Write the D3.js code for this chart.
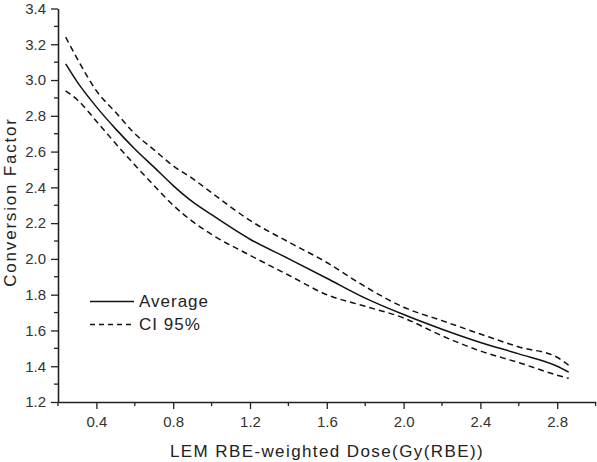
<!DOCTYPE html>
<html><head><meta charset="utf-8">
<script src="https://cdn.jsdelivr.net/npm/d3@7"></script>
<style>body{margin:0;background:#fff}svg{display:block}text{font-family:Arial,"Liberation Sans",sans-serif}</style>
</head><body><svg id="c" width="597" height="462"></svg>
<script>
const doses = [0.24,0.3,0.4,0.5,0.6,0.7,0.8,0.9,1.0,1.2,1.4,1.6,1.8,2.0,2.2,2.4,2.6,2.8,2.86];
const average = [3.09,2.99,2.85,2.727,2.615,2.513,2.41,2.32,2.247,2.11,2.002,1.892,1.781,1.689,1.607,1.533,1.469,1.40,1.367];
const ciUpper = [3.24,3.12,2.94,2.82,2.70,2.61,2.52,2.45,2.37,2.215,2.095,1.98,1.845,1.73,1.655,1.58,1.508,1.45,1.405];
const ciLower = [2.94,2.89,2.77,2.645,2.525,2.41,2.30,2.21,2.137,2.02,1.91,1.80,1.735,1.67,1.57,1.485,1.42,1.35,1.332];
const xTicks = [0.4,0.8,1.2,1.6,2.0,2.4,2.8];
const yTicks = [1.2,1.4,1.6,1.8,2.0,2.2,2.4,2.6,2.8,3.0,3.2,3.4];
const legendLabels = ["Average","CI 95%"];

const svg = d3.select("#c");
const x = d3.scaleLinear().domain([0.2,3.0]).range([58,595.6]);
const y = d3.scaleLinear().domain([1.2,3.4]).range([402,8.5]);
const axisColor = "#222", textColor = "#333";

// minor ticks
const xMinor = d3.range(0.2,3.001,0.2).map(v=>+v.toFixed(2)).filter(v=>!xTicks.some(t=>Math.abs(t-v)<1e-6));
const yMinor = d3.range(1.3,3.4,0.2).map(v=>+v.toFixed(2));
svg.append("g").selectAll("line").data(xMinor).join("line")
  .attr("x1",d=>x(d)).attr("x2",d=>x(d)).attr("y1",402).attr("y2",406)
  .attr("stroke",axisColor).attr("stroke-width",1.3);
svg.append("g").selectAll("line").data(yMinor).join("line")
  .attr("y1",d=>y(d)).attr("y2",d=>y(d)).attr("x1",58).attr("x2",54)
  .attr("stroke",axisColor).attr("stroke-width",1.3);

const xAxis = svg.append("g").attr("transform","translate(0,402)")
  .call(d3.axisBottom(x).tickValues(xTicks).tickFormat(d3.format(".1f")).tickSize(7).tickPadding(7).tickSizeOuter(0));
const yAxis = svg.append("g").attr("transform","translate(58,0)")
  .call(d3.axisLeft(y).tickValues(yTicks).tickFormat(d3.format(".1f")).tickSize(7).tickPadding(5).tickSizeOuter(0));
[xAxis,yAxis].forEach(g=>{
  g.select(".domain").attr("stroke",axisColor).attr("stroke-width",1.6);
  g.selectAll(".tick line").attr("stroke",axisColor).attr("stroke-width",1.3);
  g.selectAll(".tick text").attr("fill",textColor).style("font-size","15px").style("font-family","Arial,'Liberation Sans',sans-serif");
});

const line = d3.line().x((d,i)=>x(doses[i])).y(d=>y(d)).curve(d3.curveMonotoneX);
svg.append("path").datum(average).attr("d",line).attr("fill","none").attr("stroke","#111").attr("stroke-width",1.5);
[ciUpper,ciLower].forEach(s=>{
  svg.append("path").datum(s).attr("d",line).attr("fill","none").attr("stroke","#111")
    .attr("stroke-width",1.5).attr("stroke-dasharray","6,4");
});

// legend
svg.append("line").attr("x1",90).attr("x2",134).attr("y1",301.5).attr("y2",301.5).attr("stroke","#111").attr("stroke-width",1.5);
svg.append("line").attr("x1",90).attr("x2",134).attr("y1",324.5).attr("y2",324.5).attr("stroke","#111").attr("stroke-width",1.5).attr("stroke-dasharray","5,4");
svg.append("text").attr("x",139).attr("y",307).attr("fill","#222").style("font-size","17px").style("letter-spacing","1px").text(legendLabels[0]);
svg.append("text").attr("x",139).attr("y",330).attr("fill","#222").style("font-size","17px").style("letter-spacing","1px").text(legendLabels[1]);

// axis titles
svg.append("text").attr("x",327).attr("y",457).attr("text-anchor","middle").attr("fill","#222").style("font-size","17px").style("letter-spacing","1.4px").text("LEM RBE-weighted Dose(Gy(RBE))");
svg.append("text").attr("transform","translate(16,202) rotate(-90)").attr("text-anchor","middle").attr("fill","#222").style("font-size","17px").style("letter-spacing","1.8px").text("Conversion Factor");
</script></body></html>
